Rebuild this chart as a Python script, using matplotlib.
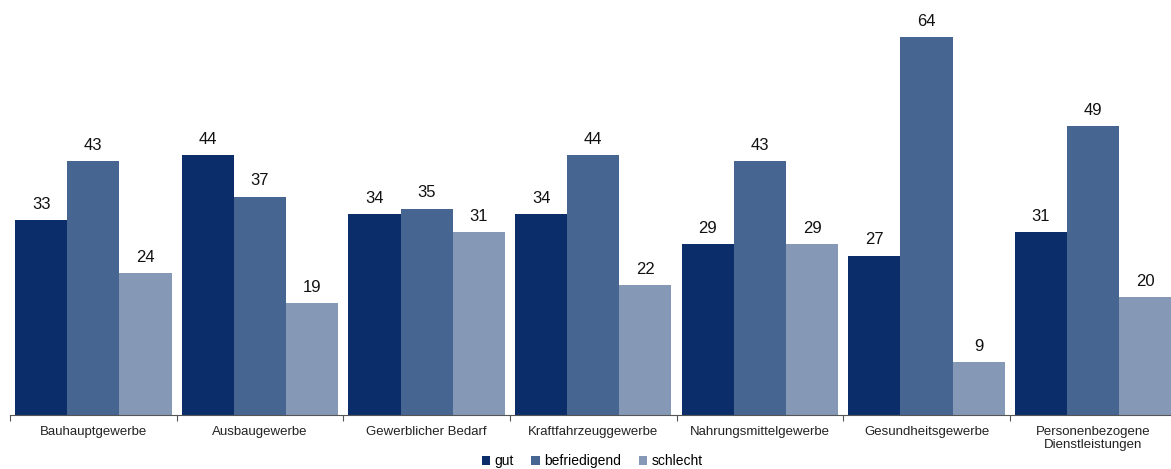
import matplotlib
matplotlib.use("Agg")
import matplotlib.pyplot as plt
import numpy as np

plt.rcParams['font.family'] = ['Liberation Sans', 'DejaVu Sans']

categories = ["Bauhauptgewerbe", "Ausbaugewerbe", "Gewerblicher Bedarf", "Kraftfahrzeuggewerbe",
              "Nahrungsmittelgewerbe", "Gesundheitsgewerbe", "Personenbezogene\nDienstleistungen"]
series_names = ["gut", "befriedigend", "schlecht"]
gut = [33, 44, 34, 34, 29, 27, 31]
befriedigend = [43, 37, 35, 44, 43, 64, 49]
schlecht = [24, 19, 31, 22, 29, 9, 20]
colors = ["#0b2e6b", "#466591", "#8599b7"]

W, H = 1171, 469
fig = plt.figure(figsize=(W / 100, H / 100), dpi=100)
ax_left, ax_right = 10, 1176.5
ax_bottom, ax_top = 415, 2
ax = fig.add_axes([ax_left / W, 1 - ax_bottom / H, (ax_right - ax_left) / W, (ax_bottom - ax_top) / H])

n = len(categories)
x = np.arange(n)
bw = 0.313
for i, (vals, c, name) in enumerate(zip([gut, befriedigend, schlecht], colors, series_names)):
    pos = x + (i - 1) * bw
    ax.bar(pos, vals, width=bw, color=c, label=name, linewidth=0)
    for p, v in zip(pos, vals):
        ax.annotate(str(v), (p, v), xytext=(0, 6), textcoords="offset points",
                    ha="center", va="bottom", fontsize=12, color="#111111")

ax.set_xlim(-0.5, n - 0.5)
ax.set_ylim(0, 70)
for s in ["top", "right", "left"]:
    ax.spines[s].set_visible(False)
ax.spines["bottom"].set_color("#555555")
ax.spines["bottom"].set_linewidth(0.8)
ax.set_yticks([])
ax.set_xticks(np.arange(n + 1) - 0.5, minor=False)
ax.set_xticklabels([])
ax.tick_params(axis="x", length=4, color="#555555", width=0.8)
ax.set_xticks(x, minor=True)
ax.set_xticklabels(categories, minor=True, fontsize=9.5, color="#222222", linespacing=1.05)
ax.tick_params(axis="x", which="minor", length=0, pad=8)

handles, labels = ax.get_legend_handles_labels()
fig.legend(handles, labels, loc="center", bbox_to_anchor=(592 / W, 1 - 461 / H), ncol=3,
           frameon=False, fontsize=10, handlelength=0.6, handleheight=0.6,
           handletextpad=0.3, columnspacing=1.3, borderaxespad=0)

fig.savefig("out.png", dpi=100)
